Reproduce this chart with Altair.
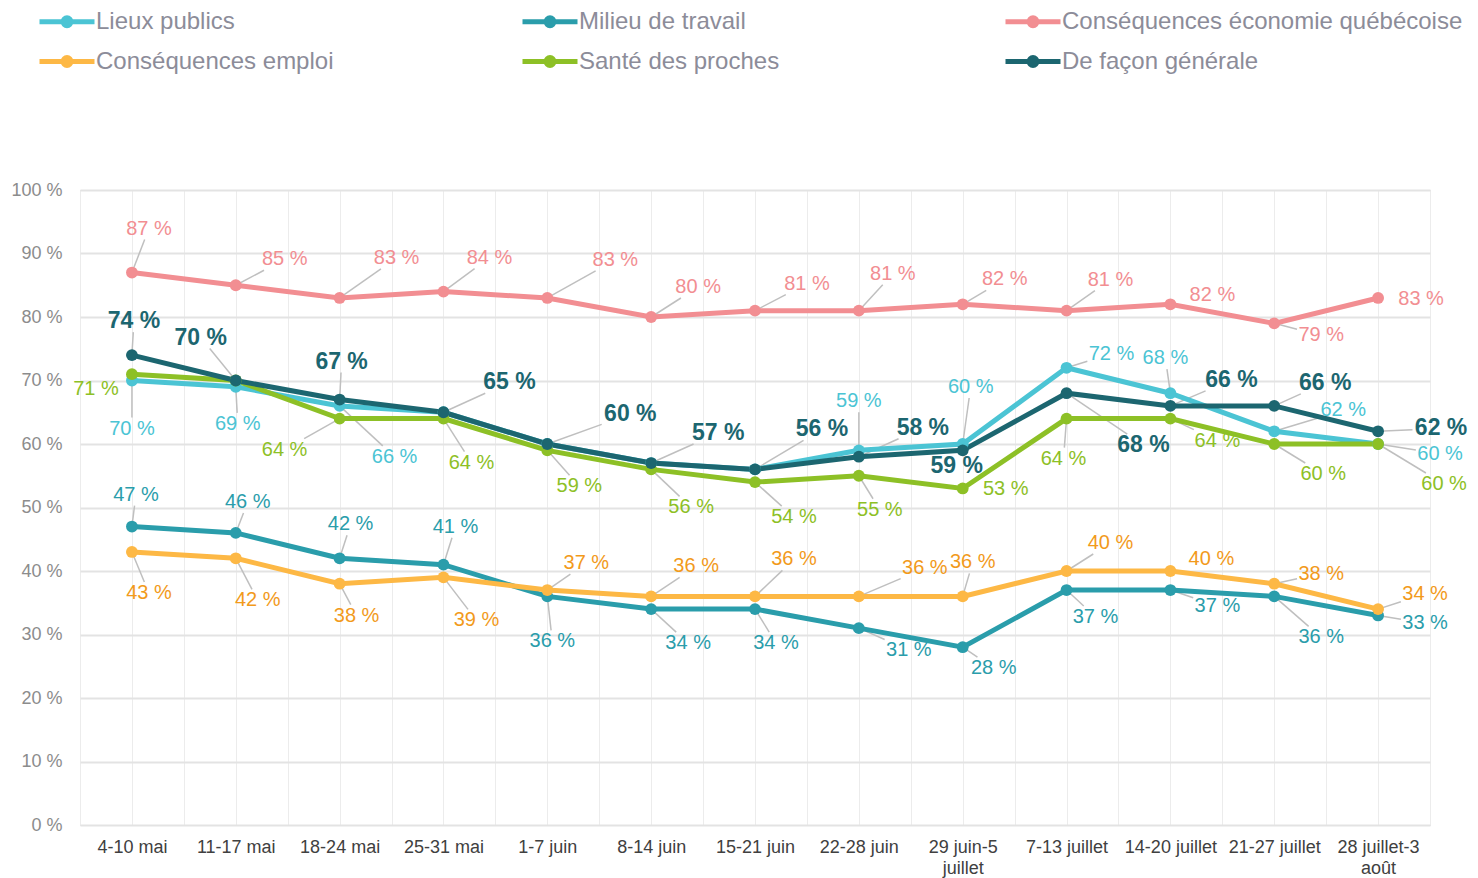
import json
import altair as alt
import pandas as pd

# ---------------- data ----------------
categories = ["4-10 mai", "11-17 mai", "18-24 mai", "25-31 mai", "1-7 juin", "8-14 juin",
              "15-21 juin", "22-28 juin", "29 juin-5 juillet", "7-13 juillet",
              "14-20 juillet", "21-27 juillet", "28 juillet-3 août"]

lieux_publics = [70, 69, 66, 65, 60, 57, 56, 59, 60, 72, 68, 62, 60]
milieu_travail = [47, 46, 42, 41, 36, 34, 34, 31, 28, 37, 37, 36, 33]
economie = [87, 85, 83, 84, 83, 80, 81, 81, 82, 81, 82, 79, 83]
emploi = [43, 42, 38, 39, 37, 36, 36, 36, 36, 40, 40, 38, 34]
sante = [71, 70, 64, 64, 59, 56, 54, 55, 53, 64, 64, 60, 60]
generale = [74, 70, 67, 65, 60, 57, 56, 58, 59, 68, 66, 66, 62]

series_names = ["Lieux publics", "Milieu de travail", "Conséquences économie québécoise",
                "Conséquences emploi", "Santé des proches", "De façon générale"]
series_values = [lieux_publics, milieu_travail, economie, emploi, sante, generale]

# ---------------- styles ----------------
line_colors = ["#4BC4D4", "#2A9DAB", "#F28E92", "#FDB845", "#8DC026", "#1C6670"]
text_colors = ["#4BC4D4", "#2A9DAB", "#F28E92", "#F29A1B", "#8DC026", "#1C6670"]
draw_order = ["Milieu de travail", "Conséquences emploi", "Conséquences économie québécoise",
              "Lieux publics", "Santé des proches", "De façon générale"]
bold_series = "De façon générale"

# label offsets in pixels (dx, dy) relative to the point; None = no label
label_offsets = {
    "Lieux publics": [(0, 48), (2, 37), (55, 51), None, None, None, None, (0, -49), (8, -57),
                      (45, -14), (-5, -35), (69, -21), (62, 10)],
    "Milieu de travail": [(4, -32), (12, -31), (11, -34), (12, -38), (5, 45), (37, 34), (21, 34),
                          (50, 22), (31, 21), (29, 27), (47, 16), (47, 41), (47, 8)],
    "Conséquences économie québécoise": [(17, -44), (49, -26), (57, -40), (46, -34), (68, -38),
                                         (47, -30), (52, -27), (34, -37), (42, -25), (44, -31),
                                         (42, -9), (47, 12), (43, 1)],
    "Conséquences emploi": [(17, 41), (22, 42), (17, 32), (33, 43), (39, -27), (45, -30),
                            (39, -37), (66, -28), (10, -34), (44, -28), (41, -12), (47, -10),
                            (47, -15)],
    "Santé des proches": [(-36, 15), None, (-55, 31), (28, 44), (32, 36), (40, 38), (39, 35),
                          (21, 34), (43, 1), (-3, 40), (47, 22), (49, 30), (66, 40)],
    "De façon générale": [(2, -34), (-35, -43), (2, -38), (66, -30), (83, -30), (67, -30),
                          (67, -40), (64, -29), (-6, 16), (77, 52), (61, -26), (51, -23),
                          (63, -3)],
}

PLOT_W, PLOT_H = 1350, 635
UX = PLOT_W / len(categories)
UY = PLOT_H / 100.0

wrapped = {"29 juin-5 juillet": ["29 juin-5", "juillet"],
           "28 juillet-3 août": ["28 juillet-3", "août"]}
label_list = [wrapped.get(c, c) for c in categories]
x_label_expr = "datum.value % 1 == 0 ? " + json.dumps(label_list, ensure_ascii=False) + "[datum.value] : ''"

# ---------------- tables ----------------
rows, labels, leaders = [], [], []
for name in draw_order:
    k = series_names.index(name)
    vals = series_values[k]
    for i, v in enumerate(vals):
        rows.append({"series": name, "i": i, "value": v, "cat": categories[i]})
        off = label_offsets[name][i]
        if off is None:
            continue
        dx, dy = off
        labels.append({"series": name, "lx": i + dx / UX, "ly": v - dy / UY,
                       "txt": f"{v} %", "tcolor": text_colors[k],
                       "bold": name == bold_series})
        hw = 26 if name == bold_series else 22
        hh = 10
        s = max(abs(dx) / hw, abs(dy) / hh)
        if s >= 2.0:
            f = 1 - 1.1 / s
            leaders.append({"x": i, "y": v, "x2": i + dx * f / UX, "y2": v - dy * f / UY})

df = pd.DataFrame(rows)
dl = pd.DataFrame(labels)
dr = pd.DataFrame(leaders)

FONT = "Liberation Sans"

xscale = alt.Scale(domain=[-0.5, len(categories) - 0.5], nice=False, zero=False)
yscale = alt.Scale(domain=[0, 100], nice=False)

xaxis = alt.Axis(values=[j * 0.5 - 0.5 for j in range(2 * len(categories) + 1)],
                 labelExpr=x_label_expr, title=None, domain=False, ticks=False,
                 labelFontSize=18, labelColor="#404040", labelPadding=13,
                 labelLineHeight=21, labelOverlap=False, labelFlush=False,
                 gridColor="#ececec", gridWidth=1)
yaxis = alt.Axis(values=list(range(0, 101, 10)), labelExpr="datum.value + ' %'", title=None,
                 domain=False, ticks=False, labelFontSize=18, labelColor="#8c8c8c",
                 labelPadding=18, gridColor="#e3e3e3", gridWidth=2)

# legend symbol: long line (-2.5..2.5 units of 11px) with a filled dot made of thick rings
legend_path = ("M-2.5,0L2.5,0 "
               "M0.36,0A0.36,0.36 0 1,1 -0.36,0A0.36,0.36 0 1,1 0.36,0 "
               "M0.13,0A0.13,0.13 0 1,1 -0.13,0A0.13,0.13 0 1,1 0.13,0")

color_scale = alt.Scale(domain=series_names, range=line_colors)

base = alt.Chart(df)

lines = base.mark_line(strokeWidth=5).encode(
    x=alt.X("i:Q", scale=xscale, axis=xaxis),
    y=alt.Y("value:Q", scale=yscale, axis=yaxis),
    color=alt.Color("series:N", scale=color_scale,
                    legend=alt.Legend(orient="none", legendX=-26.5, legendY=-182, columns=3,
                                      direction="horizontal",
                                      title=None, symbolType=legend_path, symbolSize=484,
                                      symbolStrokeWidth=5, labelFontSize=24,
                                      labelColor="#8c8c99", labelFont=FONT, labelOffset=15.5,
                                      rowPadding=11, columnPadding=16, gridAlign="all",
                                      labelLimit=600, padding=0)),
    detail="series:N",
)

points = base.mark_circle(size=140, opacity=1).encode(
    x=alt.X("i:Q", scale=xscale),
    y=alt.Y("value:Q", scale=yscale),
    color=alt.Color("series:N", scale=color_scale, legend=None),
)

leader_lines = alt.Chart(dr).mark_rule(color="#bfbfbf", strokeWidth=1.5).encode(
    x=alt.X("x:Q", scale=xscale), y=alt.Y("y:Q", scale=yscale),
    x2="x2:Q", y2="y2:Q",
)

text_normal = alt.Chart(dl).transform_filter("!datum.bold").mark_text(
    font=FONT, fontSize=20, align="center", baseline="middle").encode(
    x=alt.X("lx:Q", scale=xscale), y=alt.Y("ly:Q", scale=yscale),
    text="txt:N", color=alt.Color("tcolor:N", scale=None),
)

text_bold = alt.Chart(dl).transform_filter("datum.bold").mark_text(
    font=FONT, fontSize=23, fontWeight="bold", align="center", baseline="middle").encode(
    x=alt.X("lx:Q", scale=xscale), y=alt.Y("ly:Q", scale=yscale),
    text="txt:N", color=alt.Color("tcolor:N", scale=None),
)

chart = alt.layer(leader_lines, lines, points, text_normal, text_bold).properties(
    width=PLOT_W, height=PLOT_H,
    autosize=alt.AutoSizeParams(type="none"),
    padding={"left": 72, "top": 182, "right": 40, "bottom": 53},
).configure_view(stroke=None).configure(font=FONT)

chart.save("out.html", embed_options={"renderer": "svg", "actions": False})
